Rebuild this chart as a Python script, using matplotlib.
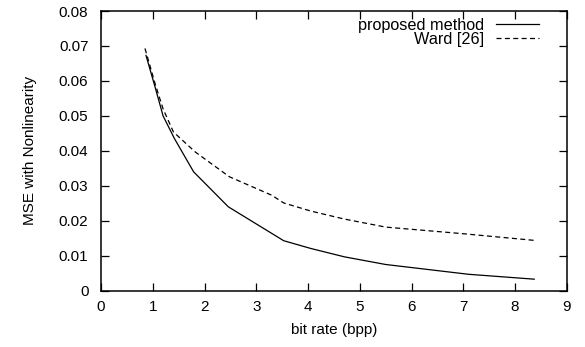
import matplotlib.pyplot as plt

plt.rcParams['font.family'] = ['Liberation Sans', 'DejaVu Sans']

# bit rate (bpp) / MSE
rate_proposed = [0.87, 1.05, 1.2, 1.42, 1.79, 2.46, 3.53, 4.05, 4.7, 5.5, 7.1, 8.37]
mse_proposed = [0.0673, 0.058, 0.050, 0.0435, 0.034, 0.024, 0.0143, 0.0121, 0.0097, 0.0075, 0.0047, 0.0033]

rate_ward = [0.85, 1.05, 1.2, 1.4, 1.82, 2.48, 3.3, 3.53, 4.05, 4.7, 5.5, 7.0, 8.37]
mse_ward = [0.0693, 0.059, 0.052, 0.0454, 0.0397, 0.0326, 0.0273, 0.0251, 0.0228, 0.0205, 0.0182, 0.0163, 0.0144]

xticks = [0, 1, 2, 3, 4, 5, 6, 7, 8, 9]
yticks = [0, 0.01, 0.02, 0.03, 0.04, 0.05, 0.06, 0.07, 0.08]
ylabels = ['0', '0.01', '0.02', '0.03', '0.04', '0.05', '0.06', '0.07', '0.08']

fig = plt.figure(figsize=(5.85, 3.47), dpi=100)
ax = fig.add_axes([0.1726, 0.1622, 0.7964, 0.806])

ax.plot(rate_proposed, mse_proposed, color='black', lw=0.9, label='proposed method')
ax.plot(rate_ward, mse_ward, color='black', lw=0.9, dashes=(4, 2.7), label='Ward [26]')

ax.set_xlim(0, 9)
ax.set_ylim(0, 0.08)
ax.set_xticks(xticks)
ax.set_yticks(yticks)
ax.set_yticklabels(ylabels)
ax.tick_params(direction='in', top=True, right=True, length=6, width=0.9,
               labelsize=11)
ax.tick_params(axis='x', pad=7)
ax.tick_params(axis='y', pad=9)
for s in ax.spines.values():
    s.set_linewidth(1.1)

ax.set_xlabel('bit rate (bpp)', fontsize=11, labelpad=6)
ax.set_ylabel('MSE with Nonlinearity', fontsize=11, labelpad=16)

ax.legend(loc='upper right', frameon=False, markerfirst=False, fontsize=11.7,
          handlelength=2.7, handletextpad=0.7, labelspacing=-0.05,
          borderaxespad=0.2, borderpad=0.2,
          bbox_to_anchor=(0.955, 1.0))

fig.savefig('out.png', dpi=100)
